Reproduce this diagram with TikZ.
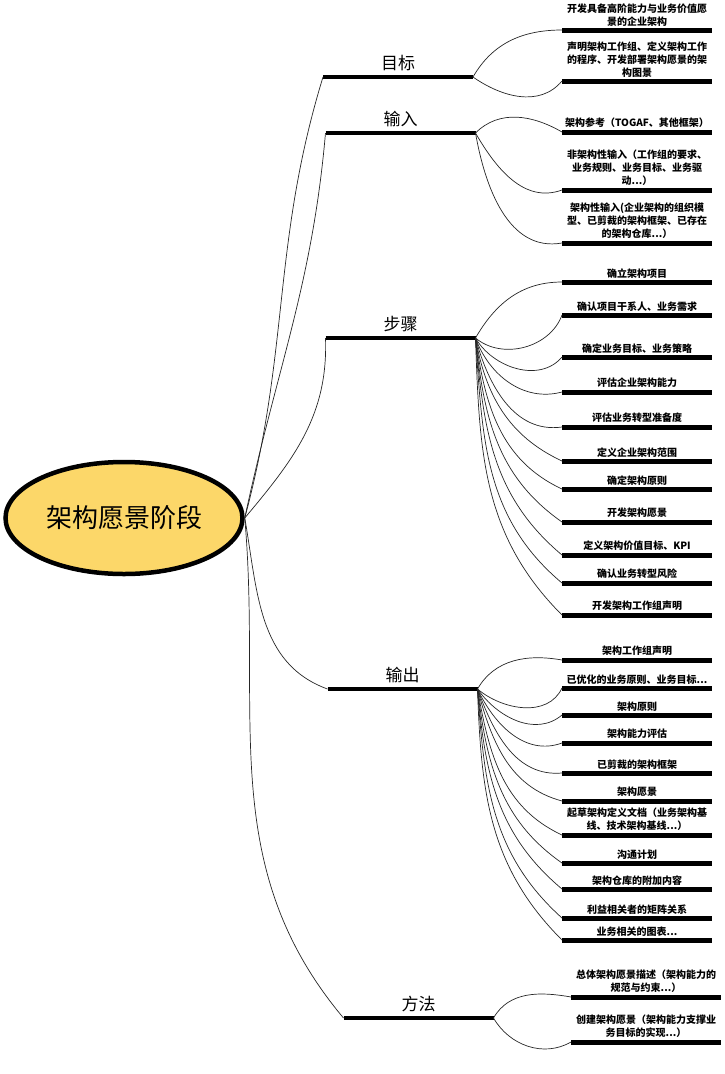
\documentclass[tikz,border=0pt]{standalone}
\usepackage{fontspec}
\newfontfamily\cjk{Noto Sans CJK SC}
\usetikzlibrary{shapes.geometric}
\definecolor{rootyellow}{HTML}{FCD769}

\begin{document}
\begin{tikzpicture}[x=1pt, y=1pt,
		rootnode/.style={draw, ellipse, line width=4.5pt, fill=rootyellow,
			minimum width=237pt, minimum height=112pt, inner sep=0pt,
			font=\cjk\fontsize{26}{30}\selectfont},
		branch/.style={anchor=south, minimum width=150pt, inner xsep=0pt,
			inner ysep=6pt, outer sep=0pt, font=\cjk\fontsize{17}{20}\selectfont},
		leaf/.style={anchor=south, text width=150pt, align=center, inner xsep=0pt,
			inner ysep=4pt, outer sep=0pt, font=\cjk\bfseries\fontsize{10}{13}\selectfont},
		branchline/.style={line width=4pt},
		leafline/.style={line width=5pt},
		link/.style={line width=0.7pt, black!85},
		]
		\useasboundingbox (0,0) rectangle (724,-1074);
		
		%% -- ROOT ----------------------------------------------
		\node[rootnode] (root) at (124,-518) {架构愿景阶段};
		
		%% -- BRANCHES ------------------------------------------
		\node[branch] (goal)   at (398,-77)    {目标};
		\node[branch] (input)  at (400.5,-133) {输入};
		\node[branch] (step)   at (400.5,-338) {步骤};
		\node[branch] (output) at (402.5,-689) {输出};
		\node[branch] (method) at (418.5,-1018) {方法};
		
		%% -- LEAVES: 目标 / 输入 --------------------------------
		\node[leaf] (g1) at (637,-30)  {开发具备高阶能力与业务价值愿\\景的企业架构};
		\node[leaf] (g2) at (637,-81)  {声明架构工作组、定义架构工作\\的程序、开发部署架构愿景的架\\构图景};
		\node[leaf] (i1) at (637,-132) {架构参考（TOGAF、其他框架）};
		\node[leaf] (i2) at (637,-190) {非架构性输入（工作组的要求、\\业务规则、业务目标、业务驱\\动...）};
		\node[leaf] (i3) at (637,-243) {架构性输入(企业架构的组织模\\型、已剪裁的架构框架、已存在\\的架构仓库...）};
		
		%% -- LEAVES: 步骤 ---------------------------------------
		\node[leaf] (s1)  at (637,-282) {确立架构项目};
		\node[leaf] (s2)  at (637,-315) {确认项目干系人、业务需求};
		\node[leaf] (s3)  at (637,-357) {确定业务目标、业务策略};
		\node[leaf] (s4)  at (637,-392) {评估企业架构能力};
		\node[leaf] (s5)  at (637,-427) {评估业务转型准备度};
		\node[leaf] (s6)  at (637,-461) {定义企业架构范围};
		\node[leaf] (s7)  at (637,-489) {确定架构原则};
		\node[leaf] (s8)  at (637,-522) {开发架构愿景};
		\node[leaf] (s9)  at (637,-555) {定义架构价值目标、KPI};
		\node[leaf] (s10) at (637,-583) {确认业务转型风险};
		\node[leaf] (s11) at (637,-615) {开发架构工作组声明};
		
		%% -- LEAVES: 输出 ---------------------------------------
		\node[leaf] (o1)  at (637,-660) {架构工作组声明};
		\node[leaf] (o2)  at (637,-688) {已优化的业务原则、业务目标...};
		\node[leaf] (o3)  at (637,-715) {架构原则};
		\node[leaf] (o4)  at (637,-743) {架构能力评估};
		\node[leaf] (o5)  at (637,-773) {已剪裁的架构框架};
		\node[leaf] (o6)  at (637,-801) {架构愿景};
		\node[leaf] (o7)  at (637,-835) {起草架构定义文档（业务架构基\\线、技术架构基线...）};
		\node[leaf] (o8)  at (637,-863) {沟通计划};
		\node[leaf] (o9)  at (637,-889) {架构仓库的附加内容};
		\node[leaf] (o10) at (637,-918) {利益相关者的矩阵关系};
		\node[leaf] (o11) at (637,-940) {业务相关的图表...};
		
		%% -- LEAVES: 方法 ---------------------------------------
		\node[leaf] (m1) at (646,-997)  {总体架构愿景描述（架构能力的\\规范与约束...）};
		\node[leaf] (m2) at (646,-1042) {创建架构愿景（架构能力支撑业\\务目标的实现...）};
		
		% underlines
		\foreach \n in {goal,input,step,output,method}
			\draw[branchline] (\n.south west) -- (\n.south east);
		\foreach \n in {g1,g2,i1,i2,i3,s1,s2,s3,s4,s5,s6,s7,s8,s9,s10,s11,
			o1,o2,o3,o4,o5,o6,o7,o8,o9,o10,o11,m1,m2}
			\draw[leafline] (\n.south west) -- (\n.south east);
		
		%% -- CONNECTORS ----------------------------------------
		\foreach \n/\o/\i in {goal/75/-107, input/78/-95, step/50/-88,
			output/-80/160, method/-85/130}
			\draw[link] (root.east) to[out=\o, in=\i] (\n.south west);
		
		\foreach \n/\o/\i in {g1/60/180, g2/-35/-130}
			\draw[link] (goal.south east) to[out=\o, in=\i] (\n.south west);
		\foreach \n/\o/\i in {i1/45/150, i2/-60/-160, i3/-80/190}
			\draw[link] (input.south east) to[out=\o, in=\i] (\n.south west);
		\foreach \n/\o/\i in {s1/60/180, s2/-40/-110, s3/-60/-130, s4/-70/-165,
			s5/-75/-172, s6/-80/155, s7/-82/155, s8/-84/145, s9/-85/140,
			s10/-86/140, s11/-88/135}
			\draw[link] (step.south east) to[out=\o, in=\i] (\n.south west);
		\foreach \n/\o/\i in {o1/60/170, o2/-40/-115, o3/-55/-140, o4/-65/-160,
			o5/-70/-175, o6/-75/165, o7/-80/155, o8/-83/145, o9/-85/140,
			o10/-86/138, o11/-88/135}
			\draw[link] (output.south east) to[out=\o, in=\i] (\n.south west);
		\foreach \n/\o/\i in {m1/60/170, m2/-60/-150}
			\draw[link] (method.south east) to[out=\o, in=\i] (\n.south west);
		
	\end{tikzpicture}
\end{document}
